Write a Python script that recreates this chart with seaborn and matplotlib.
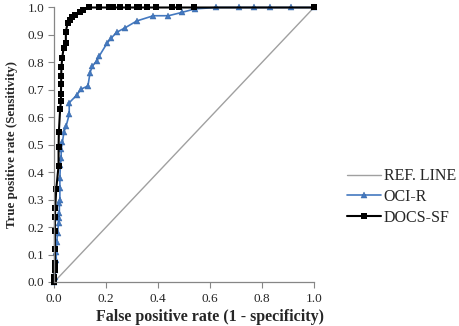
import matplotlib.pyplot as plt
import pandas as pd
import seaborn as sns

# ROC curve points
oci_fpr = [0, 0.003, 0.005, 0.008, 0.008, 0.01, 0.013, 0.017, 0.017, 0.02, 0.02, 0.022, 0.022,
           0.022, 0.024, 0.027, 0.027, 0.032, 0.038, 0.046, 0.058, 0.058, 0.087, 0.104, 0.13,
           0.138, 0.147, 0.164, 0.174, 0.205, 0.219, 0.241, 0.273, 0.318, 0.382, 0.44, 0.491,
           0.542, 0.623, 0.712, 0.769, 0.831, 0.91, 1.0]
oci_tpr = [0, 0.02, 0.045, 0.08, 0.11, 0.147, 0.18, 0.214, 0.232, 0.25, 0.287, 0.299, 0.341,
           0.378, 0.426, 0.45, 0.483, 0.511, 0.548, 0.568, 0.611, 0.653, 0.681, 0.703, 0.714,
           0.762, 0.787, 0.805, 0.824, 0.872, 0.888, 0.91, 0.926, 0.951, 0.97, 0.97, 0.982,
           0.995, 1, 1, 1, 1, 1, 1]

docs_fpr = [0, 0, 0, 0.003, 0.003, 0.003, 0.003, 0.003, 0.003, 0.004, 0.008, 0.017, 0.017,
            0.018, 0.023, 0.026, 0.026, 0.027, 0.027, 0.028, 0.031, 0.036, 0.045, 0.045, 0.052,
            0.062, 0.07, 0.08, 0.1, 0.11, 0.135, 0.174, 0.213, 0.228, 0.254, 0.286, 0.318, 0.328,
            0.359, 0.392, 0.453, 0.482, 0.54, 1.0]
docs_tpr = [0, 0.01, 0.02, 0.045, 0.055, 0.07, 0.119, 0.187, 0.236, 0.268, 0.338, 0.424, 0.491,
            0.545, 0.63, 0.658, 0.686, 0.721, 0.75, 0.784, 0.815, 0.851, 0.872, 0.912, 0.945,
            0.955, 0.964, 0.973, 0.982, 0.99, 1, 1, 1, 1, 1, 1, 1, 1,
            1, 1, 1, 1, 1, 1]

ref_line = [0, 1]
x_ticks = [0.0, 0.2, 0.4, 0.6, 0.8, 1.0]
y_ticks = [0.0, 0.1, 0.2, 0.3, 0.4, 0.5, 0.6, 0.7, 0.8, 0.9, 1.0]

sns.set_theme(style='ticks')
plt.rcParams['font.family'] = ['Liberation Serif', 'DejaVu Serif']

fig = plt.figure(figsize=(4.59, 3.26), dpi=100)
ax = fig.add_axes([0.118, 0.135, 0.566, 0.842])

df_ref = pd.DataFrame({'x': ref_line, 'y': ref_line})
df_oci = pd.DataFrame({'x': oci_fpr, 'y': oci_tpr})
df_docs = pd.DataFrame({'x': docs_fpr, 'y': docs_tpr})

sns.lineplot(x='x', y='y', data=df_ref, ax=ax, color='#a0a0a0', linewidth=1.0,
             sort=False, estimator=None, label='REF. LINE')
sns.lineplot(x='x', y='y', data=df_oci, ax=ax, color='#4479c0', linewidth=1.2,
             marker='^', markersize=4.5, markeredgewidth=0.3, markeredgecolor='#2f5f9e',
             sort=False, estimator=None, label='OCI-R', clip_on=False)
sns.lineplot(x='x', y='y', data=df_docs, ax=ax, color='black', linewidth=1.5,
             marker='s', markersize=4, markeredgewidth=0,
             sort=False, estimator=None, label='DOCS-SF', clip_on=False)

ax.set_xlim(0, 1)
ax.set_ylim(0, 1)
ax.set_xticks(x_ticks)
ax.set_yticks(y_ticks)
ax.set_xticklabels([f'{t:.1f}' for t in x_ticks])
ax.set_yticklabels([f'{t:.1f}' for t in y_ticks])
ax.tick_params(labelsize=9.5, length=4, width=0.8, color='#868686', pad=3)
ax.tick_params(axis='x', pad=4)
sns.despine(ax=ax)
for s in ['left', 'bottom']:
    ax.spines[s].set_color('#868686')
    ax.spines[s].set_linewidth(0.9)

ax.set_xlabel('False positive rate (1 - specificity)', fontsize=11.5, fontweight='bold',
              labelpad=3, x=0.6)
ax.set_ylabel('True positive rate (Sensitivity)', fontsize=9.3, fontweight='bold', labelpad=7)

ax.legend(loc='center left', bbox_to_anchor=(0.756, 0.396), bbox_transform=fig.transFigure,
          frameon=False, fontsize=11.5, handlelength=2.1, handletextpad=0.2,
          labelspacing=0.3, borderaxespad=0, borderpad=0)

fig.savefig('out.png', dpi=100)
